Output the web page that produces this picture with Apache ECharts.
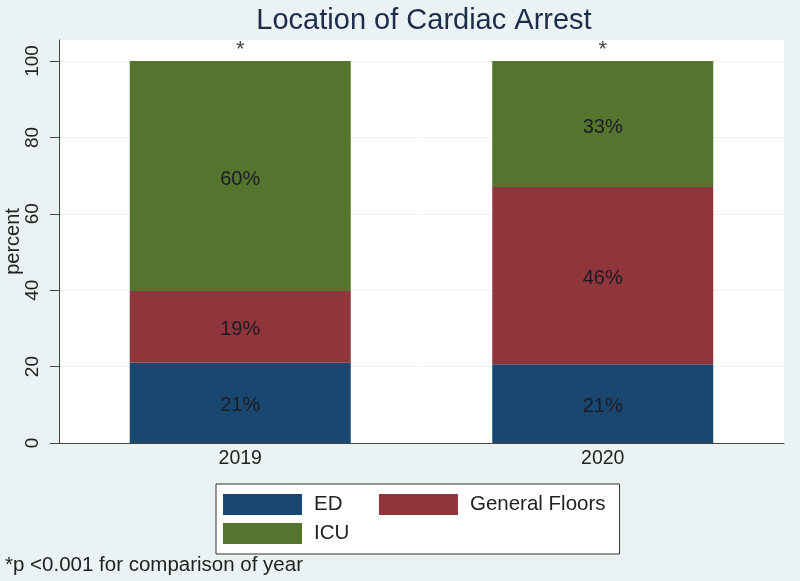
<!DOCTYPE html>
<html>
<head>
<meta charset="utf-8">
<script src="https://cdn.jsdelivr.net/npm/echarts@6/dist/echarts.min.js"></script>
<style>
  html, body { margin: 0; padding: 0; background: #eaf2f3; }
  #chart { width: 800px; height: 581px; }
</style>
</head>
<body>
<div id="chart"></div>
<script>
const categories = ['2019', '2020'];
const edValues = [21.0, 20.6];
const generalFloorsValues = [18.8, 46.4];
const icuValues = [60.2, 33.0];
const starValues = [100, 100];
const starMarks = ['*', '*'];
const yTicks = [0, 20, 40, 60, 80, 100];

const FONT = '"Liberation Sans", Arial, sans-serif';
const NBSP = '\u00a0';

const chart = echarts.init(document.getElementById('chart'));

function pctLabel(p) { return Math.round(p.value) + '%'; }

const barLabel = {
  show: true,
  position: 'inside',
  offset: [0, 3],
  formatter: pctLabel,
  color: '#1b1b24',
  fontSize: 20,
  fontFamily: FONT
};

chart.setOption({
  backgroundColor: '#eaf2f3',
  animation: false,
  title: [
    {
      text: 'Location of Cardiac Arrest',
      left: 419,
      top: 1,
      textAlign: 'center',
      textStyle: { fontSize: 29, fontWeight: 'normal', color: '#1c2d4a', fontFamily: FONT }
    },
    {
      text: '*p <0.001 for comparison of year',
      left: 5,
      top: 555,
      padding: 0,
      textStyle: { fontSize: 20.5, fontWeight: 'normal', color: '#222', fontFamily: FONT }
    }
  ],
  grid: {
    left: 59,
    right: 16,
    top: 40,
    bottom: 138,
    show: true,
    backgroundColor: '#ffffff',
    borderWidth: 0,
    containLabel: false,
    outerBoundsMode: 'none'
  },
  legend: {
    left: 216,
    top: 484,
    orient: 'horizontal',
    width: 390,
    padding: [10, 14, 10, 7],
    itemGap: 8,
    itemWidth: 79,
    itemHeight: 21,
    backgroundColor: '#ffffff',
    borderColor: '#333333',
    borderWidth: 1,
    icon: 'rect',
    formatter: function (name) { return name === 'ED' ? name + NBSP.repeat(5) : name; },
    textStyle: { fontSize: 20.5, color: '#222', fontFamily: FONT, padding: [0, 0, 0, 7] },
    data: ['ED', 'General Floors', 'ICU']
  },
  xAxis: {
    type: 'category',
    data: categories,
    axisLine: { show: true, lineStyle: { color: '#444', width: 1 } },
    axisTick: { show: false },
    axisLabel: { fontSize: 19.5, color: '#222', margin: 6, fontFamily: FONT },
    splitLine: { show: false }
  },
  yAxis: {
    type: 'value',
    min: 0,
    max: 105.5,
    name: 'percent',
    nameLocation: 'middle',
    nameRotate: 90,
    nameGap: 36,
    nameMoveOverlap: false,
    nameTextStyle: { fontSize: 20, color: '#222', fontFamily: FONT },
    axisLine: { show: true, lineStyle: { color: '#444', width: 1 } },
    axisTick: { show: true, length: 9, customValues: yTicks, lineStyle: { color: '#444' } },
    axisLabel: {
      customValues: yTicks,
      rotate: 90,
      fontSize: 19,
      color: '#222',
      margin: 17,
      fontFamily: FONT
    },
    splitLine: { show: true, lineStyle: { color: '#eaf2f3', width: 1 } }
  },
  series: [
    {
      name: 'ED',
      type: 'bar',
      stack: 'loc',
      barWidth: 221,
      data: edValues,
      itemStyle: { color: '#1a476f' },
      label: barLabel
    },
    {
      name: 'General Floors',
      type: 'bar',
      stack: 'loc',
      barWidth: 221,
      data: generalFloorsValues,
      itemStyle: { color: '#90353b' },
      label: barLabel
    },
    {
      name: 'ICU',
      type: 'bar',
      stack: 'loc',
      barWidth: 221,
      data: icuValues,
      itemStyle: { color: '#55752f' },
      label: barLabel
    },
    {
      name: 'sig',
      type: 'scatter',
      data: starValues,
      symbolSize: 0,
      silent: true,
      label: {
        show: true,
        position: 'top',
        distance: 0,
        formatter: function (p) { return starMarks[p.dataIndex]; },
        fontSize: 22,
        color: '#111',
        fontFamily: FONT
      }
    }
  ]
});
</script>
</body>
</html>
